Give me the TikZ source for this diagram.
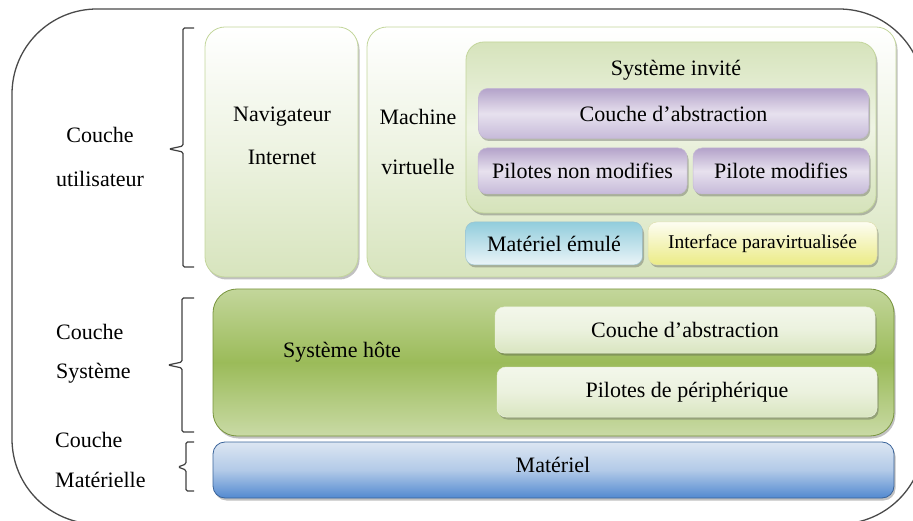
\documentclass[tikz,border=0pt]{standalone}
\usepackage{fontspec}
\setmainfont{Liberation Serif}
\usetikzlibrary{shadows}

\definecolor{frameline}{HTML}{4A4A4A}
\definecolor{palegreen}{HTML}{D7E4BD}
\definecolor{greenedge}{HTML}{C3D69B}
\definecolor{hostgreen}{HTML}{9BBB59}
\definecolor{hostedge}{HTML}{77933C}
\definecolor{purpletop}{HTML}{B4A3CA}
\definecolor{purplemid}{HTML}{E7E1EE}
\definecolor{purplebot}{HTML}{C6BAD9}
\definecolor{purpleedge}{HTML}{9F8CB8}
\definecolor{bluetop}{HTML}{DCE6F2}
\definecolor{bluebot}{HTML}{5289D0}
\definecolor{blueedge}{HTML}{3A649A}
\definecolor{emultop}{HTML}{92CDDC}
\definecolor{emulbot}{HTML}{EAF4F8}
\definecolor{emuledge}{HTML}{9CC3CF}
\definecolor{paratop}{HTML}{FDFDF2}
\definecolor{parabot}{HTML}{EBEB85}
\definecolor{paraedge}{HTML}{E0E0B0}

\tikzset{
  txt/.style={font=\fontsize{22}{25}\selectfont, inner sep=0pt},
  smalltxt/.style={font=\fontsize{19.5}{22}\selectfont, inner sep=0pt},
  softshadow/.style={drop shadow={shadow xshift=1.5pt, shadow yshift=-2.5pt, opacity=0.35, fill=black!70}},
  appbox/.style={draw=greenedge, line width=0.8pt, rounded corners=20pt,
    top color=white, bottom color=palegreen, middle color=palegreen!45,
    softshadow, inner sep=0pt},
  guestbox/.style={draw=greenedge, line width=0.8pt, rounded corners=18pt,
    top color=palegreen!95!greenedge, bottom color=palegreen!90!greenedge, middle color=palegreen!40,
    softshadow, inner sep=0pt},
  purplebox/.style={draw=purpleedge!60, line width=0.5pt, rounded corners=9pt,
    top color=purpletop, bottom color=purplebot, middle color=purplemid,
    softshadow, inner sep=0pt},
  emulbox/.style={draw=emuledge, line width=0.5pt, rounded corners=9pt,
    top color=emultop, bottom color=emulbot,
    softshadow, inner sep=0pt},
  parabox/.style={draw=paraedge, line width=0.5pt, rounded corners=9pt,
    top color=paratop, bottom color=parabot,
    softshadow, inner sep=0pt},
  hostbox/.style={draw=hostedge, line width=0.8pt, rounded corners=24pt,
    top color=greenedge, bottom color=greenedge!90!white, middle color=hostgreen,
    softshadow, inner sep=0pt},
  hostsub/.style={draw=white!80!hostgreen, line width=0.5pt, rounded corners=9pt,
    top color=white!88!hostgreen, bottom color=white!62!hostgreen, middle color=white!80!hostgreen,
    softshadow, inner sep=0pt},
  hwbox/.style={draw=blueedge, line width=0.8pt, rounded corners=12pt,
    top color=bluetop, bottom color=bluebot, middle color=bluetop!70!bluebot,
    softshadow, inner sep=0pt},
  bracket/.style={draw=black!75, line width=1.2pt, rounded corners=1.5pt},
}

\begin{document}
\begin{tikzpicture}[x=1pt, y=-1pt]
  \useasboundingbox (0,0) rectangle (913,521);
  \begin{scope}
    \clip (0,0) rectangle (913,521);
    % outer rounded frame, running past the right and bottom edges
    \draw[frameline, line width=1.3pt, rounded corners=85pt] (12,9) rectangle (924,524);
  \end{scope}

  % layer names
  \node[txt] (lu1) at (100,135) {Couche};
  \node[txt] (lu2) at (100,179) {utilisateur};
  \node[txt, anchor=west] (ls1) at (56,332) {Couche};
  \node[txt, anchor=west] (ls2) at (56,373) {Système};
  \node[txt, anchor=west] (lm1) at (55,440) {Couche};
  \node[txt, anchor=west] (lm2) at (55,480) {Matérielle};

  % curly brackets grouping the layers
  \draw[bracket] (194,28) -- (183,28) -- (183,146) -- (169,149) -- (183,152) -- (183,267) -- (194,267);
  \draw[bracket] (194,298) -- (182,298) -- (182,362) -- (168,365) -- (182,368) -- (182,432) -- (194,432);
  \draw[bracket] (194,442) -- (186,442) -- (186,464) -- (178,467) -- (186,470) -- (186,491) -- (194,491);

  % user layer
  \node[appbox, minimum width=153pt, minimum height=250pt] (nav) at (281.5,152) {};
  \node[txt] (navt1) at (282,117) {Navigateur};
  \node[txt] (navt2) at (282,157) {Internet};

  \node[appbox, minimum width=529pt, minimum height=250pt] (vm) at (631.5,152) {};
  \node[txt] (vmt1) at (418,117) {Machine};
  \node[txt] (vmt2) at (418,167) {virtuelle};

  \node[guestbox, minimum width=410pt, minimum height=171pt] (guest) at (671,127.5) {};
  \node[txt] (guestt) at (676,70) {Système invité};

  \node[purplebox, minimum width=390pt, minimum height=50pt] (gabs) at (673.5,113.5) {};
  \node[txt] at (gabs.center) {Couche d’abstraction};
  \node[purplebox, minimum width=209pt, minimum height=46pt] (gpnm) at (582.5,171) {};
  \node[txt] at (gpnm.center) {Pilotes non modifies};
  \node[purplebox, minimum width=176pt, minimum height=46pt] (gpm) at (781,171) {};
  \node[txt] at (gpm.center) {Pilote modifies};

  \node[emulbox, minimum width=177pt, minimum height=43pt] (emul) at (554,243.5) {};
  \node[txt] at (emul.center) {Matériel émulé};
  \node[parabox, minimum width=229pt, minimum height=43pt] (para) at (762.5,243.5) {};
  \node[smalltxt] at (para.center) {Interface paravirtualisée};

  % system layer
  \node[hostbox, minimum width=681pt, minimum height=147pt] (host) at (553.5,362.5) {};
  \node[txt] (hostt) at (342,352) {Système hôte};
  \node[hostsub, minimum width=380pt, minimum height=46pt] (habs) at (685,330) {};
  \node[txt] at (habs.center) {Couche d’abstraction};
  \node[hostsub, minimum width=380pt, minimum height=50pt] (hdrv) at (687,392) {};
  \node[txt] at (hdrv.center) {Pilotes de périphérique};

  % hardware layer
  \node[hwbox, minimum width=681pt, minimum height=56pt] (hw) at (553.5,470) {};
  \node[txt] at (553,465) {Matériel};
\end{tikzpicture}
\end{document}
